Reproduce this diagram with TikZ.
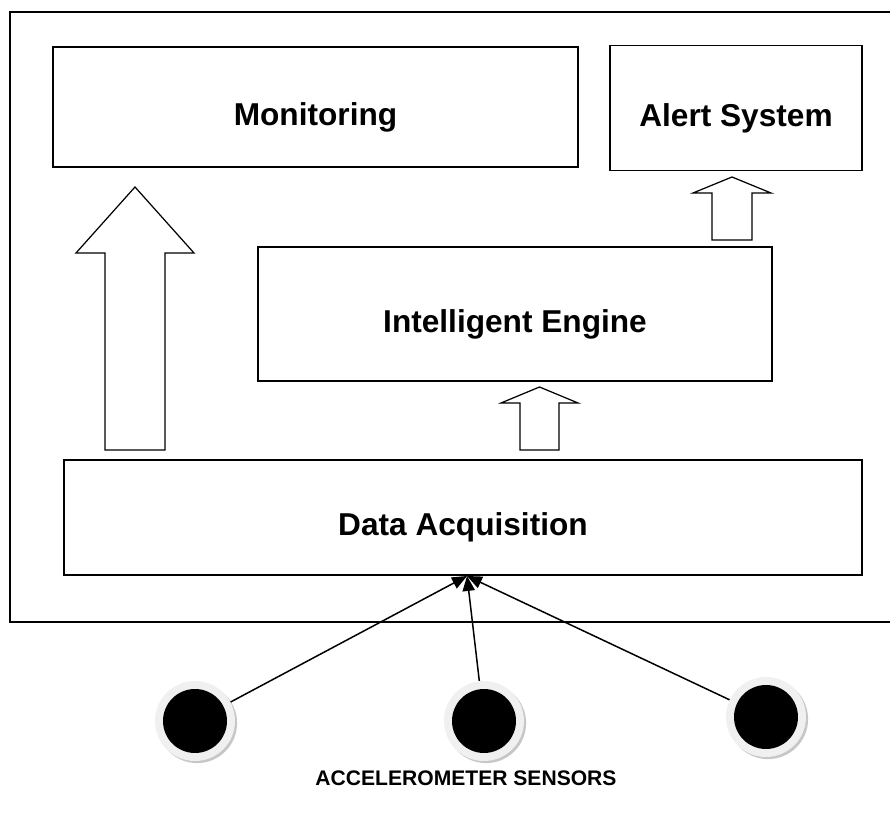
\documentclass[tikz,border=0pt]{standalone}
\usepackage{fontspec}
\setmainfont{Liberation Sans}
\usetikzlibrary{arrows.meta}
\usetikzlibrary{shadows}
\tikzstyle{base} = [rectangle, draw=black, line width=0.85pt, text height=21pt, text depth=0pt, text centered, font=\fontsize{18}{22}\selectfont\bfseries]
\tikzstyle{sensor} = [circle, inner sep=0pt, minimum size=1.6cm, fill=black!6, general shadow={fill=black!22, shadow xshift=1.2pt, shadow yshift=-1.2pt}, path picture={\fill[black] (path picture bounding box.center) circle (0.64cm);}]
\tikzstyle{wire} = [line width=0.85pt, -{Triangle[length=8.5pt,width=7pt]}]
\tikzstyle{fat} = [draw=black, line width=0.7pt, fill=white]
% block arrow: x, bottom, head base, tip, half shaft, half head
\newcommand{\uparr}[6]{\draw[fat] (#1-#5,#2) -- (#1-#5,#3) -- (#1-#6,#3) -- (#1,#4) -- (#1+#6,#3) -- (#1+#5,#3) -- (#1+#5,#2) -- cycle;}

\begin{document}
\begin{tikzpicture}[x=0.02cm, y=-0.02cm]
  \useasboundingbox (0,0) rectangle (890,813);
  % system frame, open to the right
  \draw[line width=1.1pt] (890,12) -- (10,12) -- (10,622) -- (890,622);

  \node (mon)   [base, minimum width=10.5cm, minimum height=2.4cm] at (315.5,107) {Monitoring};
  \node (alert) [base, minimum width=5.04cm, minimum height=2.5cm] at (736,108) {Alert System};
  \node (eng)   [base, minimum width=10.28cm, minimum height=2.68cm] at (515,314) {Intelligent Engine};
  \node (daq)   [base, minimum width=15.96cm, minimum height=2.3cm] at (463,517.5) {Data Acquisition};

  \uparr{135}{450}{253}{187}{30}{59}
  \uparr{539.5}{450}{403}{387}{19.5}{38.5}
  \uparr{732}{240}{193}{177}{20}{39}

  \coordinate (in) at (467,576);
  \node (s1) [sensor] at (195,721) {};
  \node (s2) [sensor] at (484,721) {};
  \node (s3) [sensor] at (766,717) {};
  \draw[wire] (s1) -- (in);
  \draw[wire] (s2) -- (in);
  \draw[wire] (s3) -- (in);

  \node (lbl) [font=\fontsize{12}{14}\selectfont\bfseries] at (466,778) {ACCELEROMETER SENSORS};
\end{tikzpicture}
\end{document}
